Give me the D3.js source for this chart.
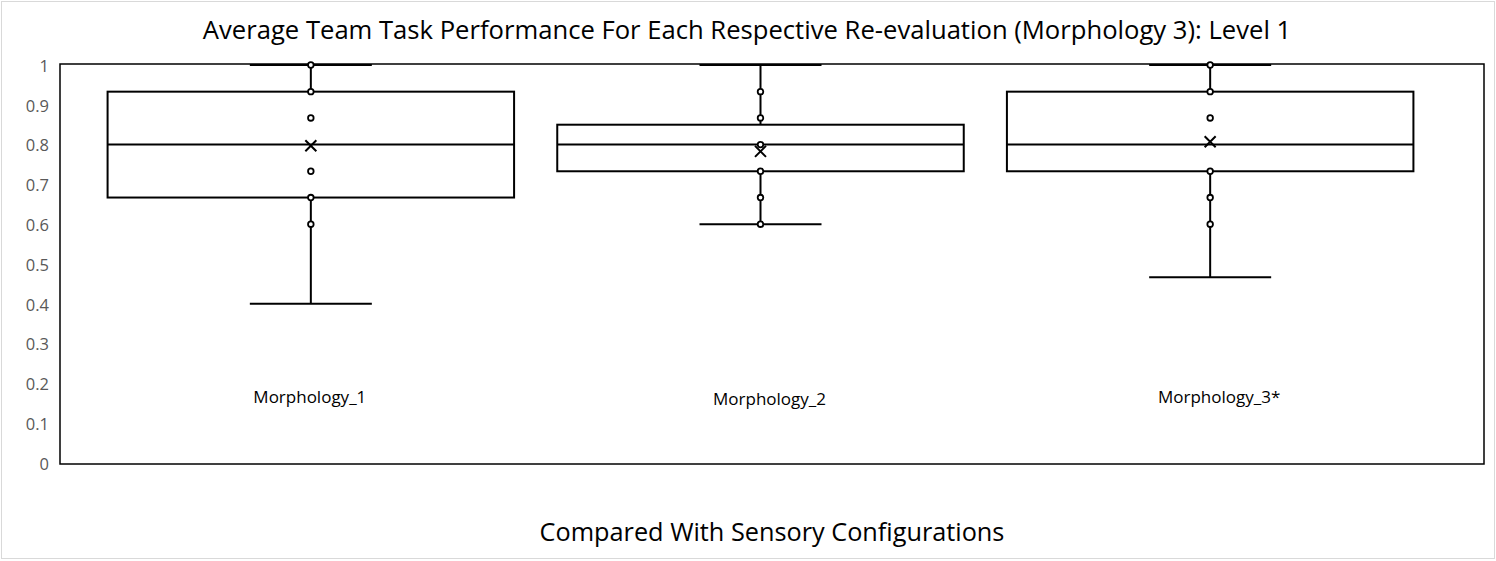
<!DOCTYPE html>
<html><head><meta charset="utf-8">
<script src="https://cdn.jsdelivr.net/npm/d3@7"></script>
<style>body{margin:0;background:#fff}svg{display:block}</style>
</head><body>
<script>
const categories = ["Morphology_1", "Morphology_2", "Morphology_3*"];
const whiskerLow  = [0.4, 0.6, 0.467];
const q1          = [0.667, 0.733, 0.733];
const median      = [0.8, 0.8, 0.8];
const q3          = [0.933, 0.85, 0.933];
const whiskerHigh = [1, 1, 1];
const means       = [0.797, 0.783, 0.807];
const innerPoints = [
  [1, 0.933, 0.867, 0.733, 0.667, 0.6],
  [0.933, 0.867, 0.8, 0.733, 0.667, 0.6],
  [1, 0.933, 0.867, 0.733, 0.667, 0.6]
];
const yTicks = [0, 0.1, 0.2, 0.3, 0.4, 0.5, 0.6, 0.7, 0.8, 0.9, 1];
const titleText = "Average Team Task Performance For Each Respective Re-evaluation (Morphology 3): Level 1";
const xTitleText = "Compared With Sensory Configurations";

const W = 1496, H = 561;
const svg = d3.select("body").append("svg").attr("width", W).attr("height", H);
const FONT = "'Open Sans', 'Noto Sans', sans-serif";

svg.append("rect").attr("x", 1.5).attr("y", 1.5).attr("width", W - 3).attr("height", H - 4)
  .attr("fill", "#fff").attr("stroke", "#d9d9d9").attr("stroke-width", 1);

const plot = {left: 60, right: 1484, top: 64, bottom: 464};
const y = d3.scaleLinear().domain([0, 1]).range([463, 65]);
const x = d3.scaleBand().domain(categories).range([86, 1435]).paddingInner(0).paddingOuter(0);
const boxW = x.bandwidth() * 0.904;
const capW = 122;

svg.append("rect").attr("x", plot.left).attr("y", plot.top)
  .attr("width", plot.right - plot.left).attr("height", plot.bottom - plot.top)
  .attr("fill", "#fff").attr("stroke", "#000").attr("stroke-width", 1.5);

const yAxis = d3.axisLeft(y).tickValues(yTicks).tickSize(0).tickPadding(0)
  .tickFormat(d => d3.format("")(+d.toFixed(1)));
const ga = svg.append("g").attr("transform", "translate(49,1)").call(yAxis);
ga.select(".domain").remove();
ga.selectAll("text").attr("font-family", FONT).attr("font-size", 16.5).attr("fill", "#595959");

function fitText(sel, target) {
  const w = sel.node().getComputedTextLength();
  const fs = parseFloat(sel.attr("font-size"));
  const nfs = fs * target / w;
  sel.attr("font-size", nfs);
  return nfs;
}

const g = svg.append("g");
const labels = [];
categories.forEach((c, i) => {
  const cx = x(c) + x.bandwidth() / 2;
  const s = g.append("g");
  s.append("line").attr("x1", cx).attr("x2", cx).attr("y1", y(whiskerHigh[i])).attr("y2", y(q3[i]))
    .attr("stroke", "#000").attr("stroke-width", 2);
  s.append("line").attr("x1", cx).attr("x2", cx).attr("y1", y(q1[i])).attr("y2", y(whiskerLow[i]))
    .attr("stroke", "#000").attr("stroke-width", 2);
  [whiskerHigh[i], whiskerLow[i]].forEach(v => {
    s.append("line").attr("x1", cx - capW / 2).attr("x2", cx + capW / 2).attr("y1", y(v)).attr("y2", y(v))
      .attr("stroke", "#000").attr("stroke-width", 2);
  });
  s.append("rect").attr("x", cx - boxW / 2).attr("y", y(q3[i])).attr("width", boxW)
    .attr("height", y(q1[i]) - y(q3[i])).attr("fill", "none").attr("stroke", "#000").attr("stroke-width", 2);
  s.append("line").attr("x1", cx - boxW / 2).attr("x2", cx + boxW / 2).attr("y1", y(median[i])).attr("y2", y(median[i]))
    .attr("stroke", "#000").attr("stroke-width", 2);
  innerPoints[i].forEach(v => {
    s.append("circle").attr("cx", cx).attr("cy", y(v)).attr("r", 2.8)
      .attr("fill", "#fff").attr("stroke", "#000").attr("stroke-width", 1.8);
  });
  const my = y(means[i]), k = 5.5;
  s.append("path").attr("d", `M${cx - k},${my - k}L${cx + k},${my + k}M${cx - k},${my + k}L${cx + k},${my - k}`)
    .attr("stroke", "#000").attr("stroke-width", 2);
  labels.push(s.append("text").attr("x", cx + (i === 0 ? -1 : 9)).attr("y", i === 1 ? 405 : 403).attr("text-anchor", "middle")
    .attr("font-family", FONT).attr("font-size", 15).attr("fill", "#000").text(c));
});

const t = svg.append("text").attr("x", 747).attr("y", 39).attr("text-anchor", "middle")
  .attr("font-family", FONT).attr("font-size", 24).attr("fill", "#000").text(titleText);
fitText(t, 1089);
const xt = svg.append("text").attr("x", 772).attr("y", 541).attr("text-anchor", "middle")
  .attr("font-family", FONT).attr("font-size", 24).attr("fill", "#000").text(xTitleText);
fitText(xt, 465);
const lfs = fitText(labels[0], 113);
labels.forEach(l => l.attr("font-size", lfs));
</script>
</body></html>
